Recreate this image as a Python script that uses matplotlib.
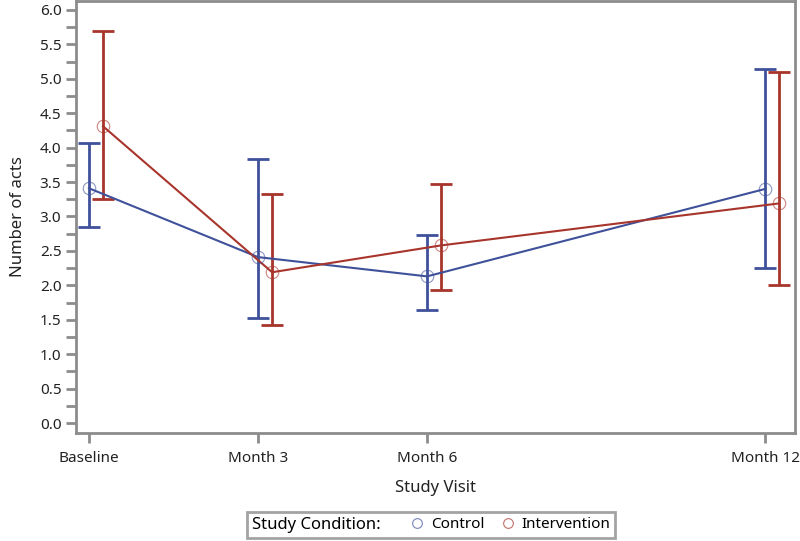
import matplotlib
matplotlib.use("Agg")
import matplotlib.pyplot as plt
from matplotlib.ticker import MultipleLocator
from matplotlib.lines import Line2D
from matplotlib.offsetbox import HPacker

visits = ["Baseline", "Month 3", "Month 6", "Month 12"]
months = [0, 3, 6, 12]
control_mean = [3.41, 2.41, 2.13, 3.40]
control_low = [2.84, 1.52, 1.64, 2.25]
control_high = [4.07, 3.84, 2.73, 5.14]
interv_mean = [4.31, 2.19, 2.58, 3.19]
interv_low = [3.25, 1.43, 1.93, 2.00]
interv_high = [5.70, 3.33, 3.47, 5.10]

plt.rcParams['font.family'] = ['Noto Sans', 'DejaVu Sans']
blue = "#3f519a"
red = "#a8352b"
grey = "#8c8c8c"

fig = plt.figure(figsize=(8.0, 5.41), dpi=100)
ax = fig.add_axes([76/800, 1 - 433/541, (795-76)/800, (433-1)/541])

offset = 0.25
series = [
    (months, control_mean, control_low, control_high, blue, "Control", 0.0),
    (months, interv_mean, interv_low, interv_high, red, "Intervention", offset),
]
for x, m, lo, hi, c, lab, off in series:
    xs = [v + off for v in x]
    yerr = [[mm - l for mm, l in zip(m, lo)], [h - mm for mm, h in zip(m, hi)]]
    ax.errorbar(xs, m, yerr=yerr, fmt='none', ecolor=c, elinewidth=2, capsize=8, capthick=2, zorder=2)
    ax.plot(xs, m, color=c, lw=1.5, zorder=3)
    ax.plot(xs, m, 'o', mfc='none', mec=c, ms=9, mew=0.8, alpha=0.6, zorder=4)

ax.set_xlim(-0.23, 12.53)
ax.set_ylim(-0.145, 6.13)
ax.set_xticks(months)
ax.set_xticklabels(visits)
ax.yaxis.set_minor_locator(MultipleLocator(0.25))
ax.set_yticks([i * 0.5 for i in range(13)])
ax.set_yticklabels([f"{i*0.5:.1f}" for i in range(13)])

for s in ax.spines.values():
    s.set_color(grey)
    s.set_linewidth(2)
ax.tick_params(axis='both', which='major', direction='out', length=7, width=2, color=grey,
               labelsize=11, labelcolor="#222222")
ax.tick_params(axis='y', which='minor', direction='out', length=7, width=2, color=grey)
ax.tick_params(axis='x', pad=6)

ax.set_xlabel("Study Visit", fontsize=12, color="#222222", labelpad=10)
ax.set_ylabel("Number of acts", fontsize=12, color="#222222", labelpad=10)

handles = [
    Line2D([], [], marker='o', ls='none', mfc='none', mec=blue, ms=7, mew=0.8, alpha=0.7),
    Line2D([], [], marker='o', ls='none', mfc='none', mec=red, ms=7, mew=0.8, alpha=0.7),
]
leg = fig.legend(handles, ["Control", "Intervention"], loc='center', bbox_to_anchor=(431/800, 1 - 525/541),
                 ncol=2, title="Study Condition:", fontsize=11, frameon=True, fancybox=False,
                 handletextpad=0.3, columnspacing=0.9, handlelength=1.2, borderpad=0.3)
leg.get_title().set_fontsize(12)
title_box = leg._legend_title_box
handle_box = leg._legend_handle_box
leg._legend_box._children = [HPacker(pad=0, sep=20, children=[title_box, handle_box], align='center')]
leg.get_frame().set_edgecolor(grey)
leg.get_frame().set_linewidth(2)

fig.savefig("out.png", dpi=100, facecolor='white')
